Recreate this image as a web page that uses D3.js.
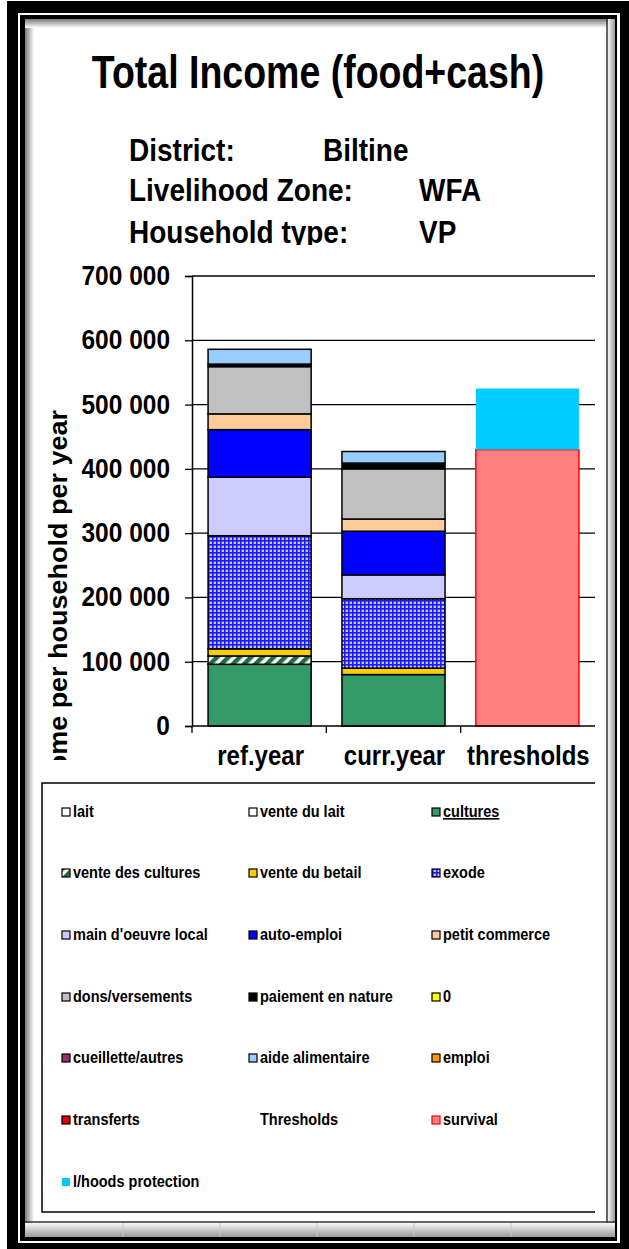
<!DOCTYPE html>
<html><head><meta charset="utf-8">
<script src="https://cdn.jsdelivr.net/npm/d3@7"></script>
<style>html,body{margin:0;padding:0;background:#fff}svg{display:block}</style>
</head><body>
<script>
// ---------- data ----------
const categories = ["ref.year", "curr.year", "thresholds"];
const seriesNames = ["lait", "vente du lait", "cultures", "vente des cultures", "vente du betail", "exode",
  "main d'oeuvre local", "auto-emploi", "petit commerce", "dons/versements", "paiement en nature", "0",
  "cueillette/autres", "aide alimentaire", "emploi", "transferts", "Thresholds", "survival", "l/hoods protection"];
const refYearValues  = [0, 0, 96000, 13000, 11000, 176000, 91000, 74000, 24500, 73500, 4000, 0, 0, 23000, 0, 0, 0, 0, 0];
const currYearValues = [0, 0, 80000, 0, 10000, 108000, 37000, 68000, 19000, 78000, 9000, 0, 0, 18000, 0, 0, 0, 0, 0];
const thresholdValues = [0, 0, 0, 0, 0, 0, 0, 0, 0, 0, 0, 0, 0, 0, 0, 0, 0, 430000, 95000];
const yTicks = [0, 100000, 200000, 300000, 400000, 500000, 600000, 700000];
const seriesColors = ["#FFFFFF", "#FFFFFF", "#339966", "url(#stripes)", "#FFCC00", "url(#grid)",
  "#CCCCFF", "#0000FF", "#FFCC99", "#C0C0C0", "#000000", "#FFFF00",
  "#993366", "#99CCFF", "#FF9900", "#E00000", "none", "#FF8080", "#00CCFF"];
const seriesStrokes = ["#000", "#000", "#000", "#000", "#000", "#000", "#000", "#000", "#000", "#000", "#000", "#000",
  "#000", "#000", "#000", "#000", "none", "#FF0000", "none"];

const W = 629, H = 1249, SY = 1.12;
const svg = d3.select("body").append("svg").attr("width", W).attr("height", H);
const defs = svg.append("defs");

// patterns
const st = defs.append("pattern").attr("id", "stripes").attr("patternUnits", "userSpaceOnUse")
  .attr("width", 8).attr("height", 8).attr("patternTransform", "rotate(45)");
st.append("rect").attr("width", 8).attr("height", 8).attr("fill", "#FFFFFF");
st.append("rect").attr("width", 4.5).attr("height", 8).attr("fill", "#1F6B3F");
const gp = defs.append("pattern").attr("id", "grid").attr("patternUnits", "userSpaceOnUse")
  .attr("width", 4).attr("height", 4);
gp.append("rect").attr("width", 4).attr("height", 4).attr("fill", "#C4C4FF");
gp.append("rect").attr("width", 4).attr("height", 1.6).attr("fill", "#1A1AEE");
gp.append("rect").attr("width", 1.6).attr("height", 4).attr("fill", "#1A1AEE");

// gradients
function lg(id, x2, y2, stops) {
  const g = defs.append("linearGradient").attr("id", id).attr("x1", 0).attr("y1", 0).attr("x2", x2).attr("y2", y2);
  stops.forEach(s => g.append("stop").attr("offset", s[0]).attr("stop-color", s[1]));
}
lg("gLeft", 1, 0, [[0, "#7a7a7a"], [1, "#ffffff"]]);
lg("gTop", 0, 1, [[0, "#7a7a7a"], [1, "#ffffff"]]);
lg("gRight", 1, 0, [[0, "#f4f4f4"], [1, "#9a9a9a"]]);
lg("gBottom", 0, 1, [[0, "#f8f8f8"], [1, "#9a9a9a"]]);

// ---------- frame ----------
svg.append("rect").attr("width", W).attr("height", H).attr("fill", "#fff");
svg.append("rect").attr("x", 7).attr("y", 1).attr("width", 622).attr("height", 1248).attr("fill", "#000");
svg.append("rect").attr("x", 18).attr("y", 13).attr("width", 602).attr("height", 1230).attr("fill", "#fff");
svg.append("rect").attr("x", 20).attr("y", 15).attr("width", 597).attr("height", 1226).attr("fill", "#000");
svg.append("rect").attr("x", 25).attr("y", 19).attr("width", 590).attr("height", 1218).attr("fill", "#fff");
svg.append("rect").attr("x", 25).attr("y", 19).attr("width", 9).attr("height", 1218).attr("fill", "url(#gLeft)");
svg.append("rect").attr("x", 25).attr("y", 19).attr("width", 590).attr("height", 9).attr("fill", "url(#gTop)");
svg.append("rect").attr("x", 608).attr("y", 19).attr("width", 7).attr("height", 1218).attr("fill", "url(#gRight)");
svg.append("rect").attr("x", 25).attr("y", 1223).attr("width", 590).attr("height", 14).attr("fill", "url(#gBottom)");
[123, 220, 317, 414, 511].forEach(x => svg.append("line").attr("x1", x).attr("x2", x).attr("y1", 1223).attr("y2", 1237)
  .attr("stroke", "#c8c8c8").attr("stroke-width", 1));
svg.append("line").attr("x1", 607).attr("x2", 607).attr("y1", 19).attr("y2", 1223).attr("stroke", "#333").attr("stroke-width", 1.5);
svg.append("line").attr("x1", 25).attr("x2", 615).attr("y1", 1222).attr("y2", 1222).attr("stroke", "#333").attr("stroke-width", 1.5);

// text helper with vertical stretch
function stext(parent, x, y, txt, size, anchor, weight, sy) {
  return parent.append("text")
    .attr("transform", `translate(${x},${y}) scale(1,${sy || SY})`)
    .attr("font-family", "'Liberation Sans', Arial, sans-serif")
    .attr("font-size", size).attr("font-weight", weight || "bold")
    .attr("text-anchor", anchor || "start").attr("fill", "#000").text(txt);
}

// ---------- titles ----------
stext(svg, 318, 88, "Total Income (food+cash)", 37.5, "middle", "bold", 1.22);
defs.append("clipPath").attr("id", "subClip").append("rect").attr("x", 0).attr("y", 0).attr("width", W).attr("height", 245);
const sub = svg.append("g").attr("clip-path", "url(#subClip)");
stext(sub, 129, 161, "District:", 28, "start", "bold", 1.1);
stext(sub, 323, 161, "Biltine", 28, "start", "bold", 1.1);
stext(sub, 129, 201, "Livelihood Zone:", 28, "start", "bold", 1.1);
stext(sub, 419, 201, "WFA", 28, "start", "bold", 1.1);
stext(sub, 129, 243, "Household type:", 28, "start", "bold", 1.1);
stext(sub, 419, 243, "VP", 28, "start", "bold", 1.1);

// ---------- plot ----------
const x = d3.scaleBand().domain(categories).range([192, 595]).paddingInner(0.23).paddingOuter(0.12);
const y = d3.scaleLinear().domain([0, 700000]).range([726, 276]);

// gridlines
svg.append("g").selectAll("line").data(yTicks.filter(d => d > 0)).join("line")
  .attr("x1", 192).attr("x2", 595).attr("y1", d => y(d)).attr("y2", d => y(d))
  .attr("stroke", "#000").attr("stroke-width", 1.3);

// y axis
const yAxis = svg.append("g").attr("transform", "translate(192,0)")
  .call(d3.axisLeft(y).tickValues(yTicks).tickSize(7).tickPadding(15)
    .tickFormat(d => d3.format(",")(d).replace(/,/g, " ")));
yAxis.select(".domain").attr("stroke", "#000").attr("stroke-width", 1.5);
yAxis.selectAll(".tick line").attr("stroke", "#000").attr("stroke-width", 1.3);
yAxis.selectAll(".tick text").remove();
yTicks.forEach(t => stext(svg, 170, y(t) + 9, d3.format(",")(t).replace(/,/g, " "), 24.5, "end", "bold", 1.12));

// stacked bars
const rows = categories.map((c, i) => {
  const src = [refYearValues, currYearValues, thresholdValues][i];
  const o = { cat: c };
  seriesNames.forEach((n, j) => o[n] = src[j]);
  return o;
});
const stacked = d3.stack().keys(seriesNames)(rows);
const barG = svg.append("g");
stacked.forEach((layer, j) => {
  layer.forEach(seg => {
    const v = seg[1] - seg[0];
    if (v <= 0) return;
    const cat = seg.data.cat;
    barG.append("rect")
      .attr("x", x(cat)).attr("width", x.bandwidth())
      .attr("y", y(seg[1])).attr("height", y(seg[0]) - y(seg[1]))
      .attr("fill", seriesColors[j])
      .attr("stroke", seriesStrokes[j])
      .attr("stroke-width", 1.5);
  });
});

// x axis baseline + category ticks
svg.append("line").attr("x1", 192).attr("x2", 595).attr("y1", 726).attr("y2", 726).attr("stroke", "#000").attr("stroke-width", 1.5);
[0, 1, 2].forEach(i => {
  const bx = 192 + i * (403 / 3);
  svg.append("line").attr("x1", bx).attr("x2", bx).attr("y1", 726).attr("y2", 733).attr("stroke", "#000").attr("stroke-width", 1.3);
});
categories.forEach(c => stext(svg, x(c) + x.bandwidth() / 2 + 1, 765, c, 24, "middle", "bold", 1.12));

// y axis title (clipped)
defs.append("clipPath").attr("id", "ytClip").append("rect").attr("x", 0).attr("y", 260).attr("width", 120).attr("height", 500);
svg.append("g").attr("clip-path", "url(#ytClip)")
  .append("text")
  .attr("transform", "translate(67,410) rotate(-90) scale(1.08,1)")
  .attr("font-family", "'Liberation Sans', Arial, sans-serif")
  .attr("font-size", 25).attr("font-weight", "bold").attr("text-anchor", "end")
  .text("Income per household per year");

// ---------- legend ----------
const lgG = svg.append("g");
lgG.append("path").attr("d", "M595,783 H42 V1212 H595").attr("fill", "none").attr("stroke", "#000").attr("stroke-width", 1.5);
const colX = [62, 249, 432];
const rowY = [812, 873, 935, 997, 1058, 1120, 1182];
seriesNames.forEach((n, i) => {
  const cx = colX[i % 3], cy = rowY[Math.floor(i / 3)];
  if (n !== "Thresholds") {
    lgG.append("rect").attr("x", cx).attr("y", cy - 4).attr("width", 8).attr("height", 8)
      .attr("fill", seriesColors[i])
      .attr("stroke", n === "l/hoods protection" ? "none" : (n === "survival" ? "#FF0000" : "#000"))
      .attr("stroke-width", 1.2);
  }
  const t = stext(lgG, cx + 11, cy + 5, n, 14.5, "start", "bold", 1.1);
  if (n === "cultures") t.attr("text-decoration", "underline");
});
</script>
</body></html>
